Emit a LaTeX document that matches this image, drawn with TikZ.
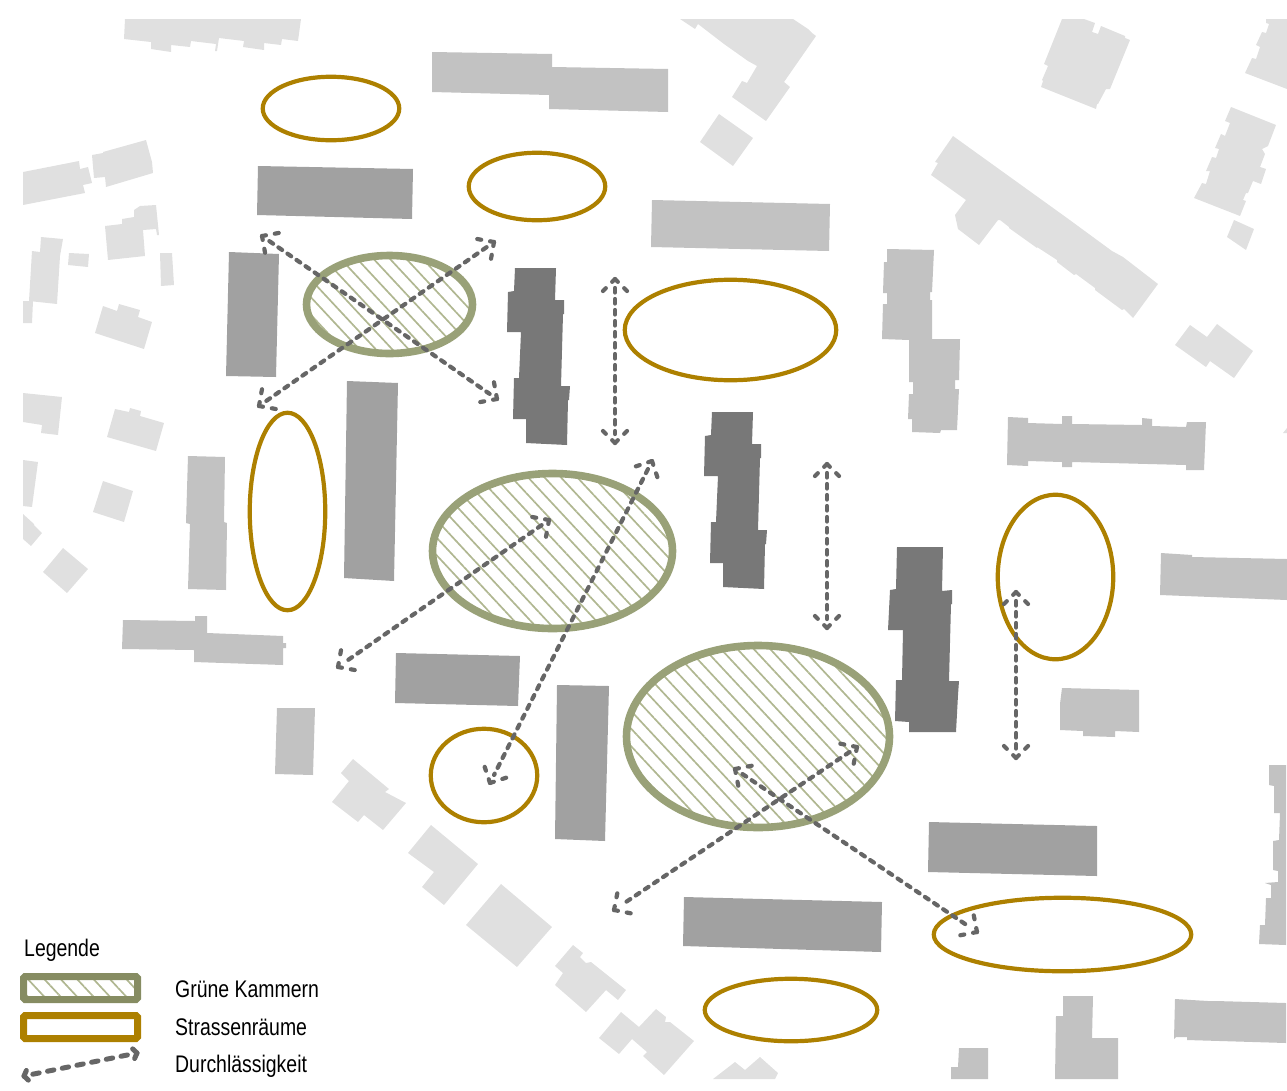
\documentclass[tikz,border=0pt]{standalone}
\usepackage{fontspec}
\setmainfont[FakeStretch=0.81]{Liberation Sans}
\usepackage{xcolor}
\usetikzlibrary{calc,patterns.meta,shapes.geometric}
\definecolor{kammer}{HTML}{99A178}
\definecolor{kammerkey}{HTML}{868C62}
\definecolor{hatchline}{HTML}{B0B791}
\definecolor{strasse}{HTML}{AD8000}
\definecolor{durchlass}{HTML}{666666}
\begin{document}
\begin{tikzpicture}[x=1pt, y=-1pt,
  pale/.style={fill=black!12},
  light/.style={fill=black!24},
  mid/.style={fill=black!37},
  dark/.style={fill=black!53},
  hatched/.style={pattern={Lines[angle=-47,distance=12pt,line width=1.7pt]}, pattern color=hatchline},
  road/.style={ellipse, draw=strasse, line width=4.2pt, inner sep=0pt},
  chamber/.style={ellipse, draw=kammer, line width=7.6pt, inner sep=0pt, hatched},
  link/.style={durchlass, line width=4.2pt, line cap=round, dash pattern=on 4.5pt off 6.5pt, shorten <=9pt, shorten >=9pt},
  barb/.style={durchlass, line width=4.2pt, line cap=round, dash pattern=on 4pt off 9pt},
  keybox/.style={rectangle, rounded corners=1.5pt, line width=7pt, inner sep=0pt, minimum width=114pt, minimum height=23pt},
  legtext/.style={anchor=base west, inner sep=0pt, font=\fontsize{24}{28}\selectfont}]
\useasboundingbox (0,0) rectangle (1287,1090);
\fill[pale] (125,19) -- (301,19) -- (298,41) -- (282,39) -- (281,45) -- (264,43) -- (264,50) -- (243,47) -- (244,41) -- (219,38) -- (217,51) -- (215,51) -- (216,44) -- (191,41) -- (190,47) -- (171,45) -- (171,52) -- (151,49) -- (151,42) -- (124,39) -- cycle;
\fill[pale] (23,172) -- (79,161) -- (80,169) -- (88,167) -- (92,183) -- (83,185) -- (85,193) -- (23,205) -- cycle;
\fill[pale] (92,155) -- (103,153) -- (103,152) -- (146,140) -- (152,162) -- (153,173) -- (106,187) -- (105,177) -- (94,178) -- cycle;
\fill[pale] (105,226) -- (122,224) -- (122,219) -- (134,217) -- (134,210) -- (140,206) -- (156,205) -- (159,235) -- (157,235) -- (156,229) -- (143,230) -- (145,256) -- (108,260) -- cycle;
\fill[pale] (41,237) -- (63,239) -- (60,256) -- (57,304) -- (29,301) -- (32,251) -- (40,252) -- cycle;
\fill[pale] (69,253) -- (89,254) -- (88,267) -- (68,265) -- cycle;
\fill[pale] (160,253) -- (172,253) -- (174,285) -- (161,286) -- cycle;
\fill[pale] (23,301) -- (33,301) -- (32,323) -- (23,323) -- cycle;
\fill[pale] (103,306) -- (117,311) -- (119,304) -- (140,310) -- (138,317) -- (152,322) -- (144,349) -- (95,333) -- cycle;
\fill[pale] (23,393) -- (62,397) -- (58,435) -- (41,433) -- (42,425) -- (23,422) -- cycle;
\fill[pale] (115,409) -- (129,412) -- (130,408) -- (141,411) -- (140,416) -- (164,423) -- (156,451) -- (107,437) -- cycle;
\fill[pale] (23,460) -- (38,462) -- (32,507) -- (23,506) -- cycle;
\fill[pale] (103,481) -- (133,491) -- (124,522) -- (93,512) -- cycle;
\fill[pale] (23,514) -- (34,524) -- (34,525) -- (42,533) -- (31,546) -- (23,539) -- cycle;
\fill[pale] (63,548) -- (88,569) -- (67,593) -- (43,572) -- cycle;
\fill[pale] (353,759) -- (389,789) -- (385,792) -- (406,803) -- (383,830) -- (364,815) -- (358,822) -- (332,802) -- (349,781) -- (341,773) -- cycle;
\fill[pale] (431,825) -- (478,864) -- (444,905) -- (422,887) -- (434,872) -- (408,853) -- cycle;
\fill[pale] (501,884) -- (552,927) -- (517,967) -- (466,925) -- cycle;
\fill[pale] (573,945) -- (583,953) -- (580,957) -- (586,963) -- (591,962) -- (626,990) -- (618,1000) -- (606,990) -- (586,1012) -- (555,985) -- (563,973) -- (555,966) -- cycle;
\fill[pale] (621,1012) -- (639,1027) -- (656,1009) -- (666,1017) -- (665,1022) -- (670,1022) -- (694,1041) -- (664,1075) -- (643,1056) -- (647,1052) -- (632,1039) -- (619,1054) -- (599,1038) -- cycle;
\fill[pale] (713,1079) -- (735,1062) -- (745,1070) -- (760,1057) -- (778,1073) -- (775,1079) -- cycle;
\fill[pale] (1062,19) -- (1084,19) -- (1095,23) -- (1092,32) -- (1098,34) -- (1101,26) -- (1125,36) -- (1125,38) -- (1130,40) -- (1110,89) -- (1106,89) -- (1098,104) -- (1097,104) -- (1096,109) -- (1041,87) -- (1043,81) -- (1042,80) -- (1048,66) -- (1044,64) -- cycle;
\fill[pale] (1266,19) -- (1287,19) -- (1287,89) -- (1245,73) -- (1252,58) -- (1256,59) -- (1260,47) -- (1256,45) -- (1262,32) -- (1266,33) -- (1269,24) -- (1266,23) -- cycle;
\fill[pale] (1231,107) -- (1276,125) -- (1268,146) -- (1262,149) -- (1265,154) -- (1260,167) -- (1266,169) -- (1261,184) -- (1253,181) -- (1248,193) -- (1246,193) -- (1243,200) -- (1246,201) -- (1240,216) -- (1194,198) -- (1202,183) -- (1206,184) -- (1210,171) -- (1206,171) -- (1212,157) -- (1216,158) -- (1219,149) -- (1215,148) -- (1221,134) -- (1225,136) -- (1230,123) -- (1225,121) -- cycle;
\fill[pale] (1234,220) -- (1254,229) -- (1246,250) -- (1227,237) -- cycle;
\fill[pale] (953,136) -- (1067,218) -- (1112,251) -- (1123,257) -- (1158,284) -- (1133,318) -- (1124,309) -- (1122,310) -- (1095,290) -- (1095,288) -- (1076,274) -- (1074,275) -- (1057,262) -- (1057,260) -- (1037,247) -- (1037,248) -- (1009,228) -- (1009,227) -- (1000,220) -- (998,220) -- (979,245) -- (958,229) -- (955,215) -- (966,200) -- (931,175) -- (938,163) -- (935,162) -- cycle;
\fill[pale] (1190,325) -- (1207,337) -- (1217,324) -- (1253,351) -- (1234,378) -- (1210,361) -- (1206,367) -- (1175,345) -- cycle;
\fill[pale] (1283,433) -- (1287,428) -- (1287,433) -- cycle;
\fill[pale] (680,19) -- (793,19) -- (808,29) -- (812,33) -- (816,36) -- (784,82) -- (790,87) -- (766,121) -- (732,97) -- (742,81) -- (747,83) -- (757,66) -- (748,61) -- (724,44) -- (698,24) -- (695,29) -- cycle;
\fill[pale] (719,114) -- (753,138) -- (733,166) -- (700,142) -- cycle;
\fill[light] (432,52) -- (552,54) -- (552,67) -- (668,69) -- (668,112) -- (549,109) -- (549,95) -- (432,92) -- cycle;
\fill[light] (652,200) -- (830,204) -- (829,251) -- (651,247) -- cycle;
\fill[light] (188,456) -- (225,457) -- (224,522) -- (227,523) -- (226,590) -- (188,589) -- (190,524) -- (186,523) -- cycle;
\fill[light] (123,620) -- (195,621) -- (195,616) -- (207,616) -- (207,633) -- (283,636) -- (283,643) -- (286,643) -- (286,648) -- (283,648) -- (283,665) -- (194,662) -- (194,650) -- (122,649) -- cycle;
\fill[light] (277,708) -- (315,708) -- (313,775) -- (275,774) -- cycle;
\fill[light] (887,249) -- (934,250) -- (932,292) -- (930,292) -- (930,300) -- (932,300) -- (932,339) -- (960,339) -- (959,380) -- (955,380) -- (955,389) -- (959,389) -- (957,430) -- (941,430) -- (940,433) -- (912,432) -- (912,419) -- (908,419) -- (909,394) -- (913,394) -- (913,382) -- (909,382) -- (909,340) -- (882,339) -- (883,304) -- (887,304) -- (887,293) -- (883,293) -- (884,262) -- (887,262) -- cycle;
\fill[light] (1008,417) -- (1028,418) -- (1028,423) -- (1062,424) -- (1062,416) -- (1072,416) -- (1072,424) -- (1142,425) -- (1142,418) -- (1152,419) -- (1152,426) -- (1186,427) -- (1187,422) -- (1206,422) -- (1204,470) -- (1186,470) -- (1186,465) -- (1072,462) -- (1072,467) -- (1062,467) -- (1062,462) -- (1028,461) -- (1028,466) -- (1007,465) -- cycle;
\fill[light] (1161,553) -- (1192,555) -- (1192,557) -- (1287,559) -- (1287,600) -- (1160,595) -- cycle;
\fill[light] (1062,688) -- (1139,690) -- (1139,732) -- (1115,731) -- (1115,737) -- (1083,736) -- (1083,731) -- (1060,730) -- (1060,704) -- cycle;
\fill[light] (1269,765) -- (1286,765) -- (1286,945) -- (1259,944) -- (1260,925) -- (1265,925) -- (1266,898) -- (1271,898) -- (1271,885) -- (1265,883) -- (1278,882) -- (1278,871) -- (1273,870) -- (1273,841) -- (1279,840) -- (1280,813) -- (1274,813) -- (1274,786) -- (1269,785) -- cycle;
\fill[light] (1175,999) -- (1208,1001) -- (1216,1001) -- (1286,1003) -- (1286,1043) -- (1187,1040) -- (1187,1037) -- (1176,1037) -- (1174,1039) -- cycle;
\fill[light] (1063,996) -- (1093,996) -- (1092,1038) -- (1118,1038) -- (1118,1079) -- (1055,1079) -- (1056,1016) -- (1063,1016) -- cycle;
\fill[light] (959,1048) -- (988,1048) -- (988,1079) -- (951,1079) -- (951,1067) -- (958,1067) -- cycle;
\fill[mid] (258,166) -- (413,169) -- (412,219) -- (257,215) -- cycle;
\fill[mid] (229,252) -- (279,254) -- (276,377) -- (226,376) -- cycle;
\fill[mid] (347,381) -- (398,383) -- (394,581) -- (344,578) -- cycle;
\fill[mid] (396,653) -- (520,656) -- (518,706) -- (395,703) -- cycle;
\fill[mid] (557,685) -- (609,686) -- (605,841) -- (555,839) -- cycle;
\fill[mid] (684,897) -- (882,902) -- (881,952) -- (683,946) -- cycle;
\fill[mid] (929,822) -- (1097,826) -- (1097,876) -- (928,872) -- cycle;
\fill[dark] (515,268) -- (556,268) -- (555,300) -- (564,300) -- (564,314) -- (563,314) -- (561,386) -- (570,386) -- (569,400) -- (568,400) -- (567,445) -- (526,443) -- (526,419) -- (513,419) -- (514,378) -- (519,378) -- (521,332) -- (507,332) -- (508,292) -- (514,291) -- cycle;
\fill[dark] (712,412) -- (753,412) -- (752,444) -- (761,444) -- (761,458) -- (760,458) -- (758,530) -- (767,530) -- (766,544) -- (765,544) -- (764,589) -- (723,587) -- (723,563) -- (710,563) -- (711,522) -- (716,522) -- (718,476) -- (704,476) -- (705,436) -- (711,435) -- cycle;
\fill[dark] (897,547) -- (943,547) -- (942,591) -- (952,590) -- (952,604) -- (951,604) -- (949,681) -- (959,681) -- (958,695) -- (956,732) -- (909,732) -- (909,722) -- (895,721) -- (896,680) -- (902,680) -- (903,630) -- (888,630) -- (890,590) -- (896,589) -- cycle;
\node[road, minimum width=136.5pt, minimum height=63.5pt] (road1) at (331,108.5) {};
\node[road, minimum width=136.5pt, minimum height=67.5pt] (road2) at (537,186.5) {};
\node[road, minimum width=211.5pt, minimum height=100.5pt] (road3) at (730.5,330) {};
\node[road, minimum width=75.5pt, minimum height=197.5pt] (road4) at (287.5,511.5) {};
\node[road, minimum width=115.5pt, minimum height=164.5pt] (road5) at (1055.5,577) {};
\node[road, minimum width=106.5pt, minimum height=93.5pt] (road6) at (484,775.5) {};
\node[road, minimum width=257.5pt, minimum height=73.5pt] (road7) at (1062.5,934.5) {};
\node[road, minimum width=172.5pt, minimum height=62.5pt] (road8) at (791,1010) {};
\node[chamber, minimum width=166pt, minimum height=98pt] (chamber1) at (389.5,304.5) {};
\node[chamber, minimum width=240pt, minimum height=155pt] (chamber2) at (552.5,551) {};
\node[chamber, minimum width=263pt, minimum height=182pt] (chamber3) at (758,736.5) {};
\coordinate (p1a) at (262,236); \coordinate (p1b) at (497,399);
\coordinate (p2a) at (259,406); \coordinate (p2b) at (494,242);
\coordinate (p3a) at (615,279); \coordinate (p3b) at (615,443);
\coordinate (p4a) at (652,461); \coordinate (p4b) at (490,783);
\coordinate (p5a) at (549,520); \coordinate (p5b) at (338,667);
\coordinate (p6a) at (827,464); \coordinate (p6b) at (827,628);
\coordinate (p7a) at (1016,592); \coordinate (p7b) at (1016,758);
\coordinate (p8a) at (857,747); \coordinate (p8b) at (614,910);
\coordinate (p9a) at (735,769); \coordinate (p9b) at (977,932);
\foreach \a/\b in {p1a/p1b,p2a/p2b,p3a/p3b,p4a/p4b,p5a/p5b,p6a/p6b,p7a/p7b,p8a/p8b,p9a/p9b} {
  \draw[link] (\a) -- (\b);
  \foreach \s in {-45,45} {
    \draw[barb] (\a) -- ($(\a)!17pt!\s:(\b)$);
    \draw[barb] (\b) -- ($(\b)!17pt!\s:(\a)$);
  }
}
\node[legtext] (legtitle) at (24,956) {Legende};
\node[keybox, draw=kammerkey, hatched] (keygreen) at (80.5,988) {};
\node[keybox, draw=strasse] (keyroad) at (80.5,1027) {};
\coordinate (keya) at (24,1076); \coordinate (keyb) at (137,1053);
\draw[durchlass, line width=5pt, line cap=round, dash pattern=on 6.5pt off 8.5pt, shorten <=9pt, shorten >=9pt] (keya) -- (keyb);
\foreach \s in {-55,55} {
  \draw[durchlass, line width=5pt, line cap=round] (keya) -- ($(keya)!6pt!\s:(keyb)$);
  \draw[durchlass, line width=5pt, line cap=round] (keyb) -- ($(keyb)!6pt!\s:(keya)$);
}
\node[legtext] (labgreen) at (175,997) {Grüne Kammern};
\node[legtext] (labroad) at (175,1035) {Strassenräume};
\node[legtext] (labpass) at (175,1072) {Durchlässigkeit};
\end{tikzpicture}
\end{document}
